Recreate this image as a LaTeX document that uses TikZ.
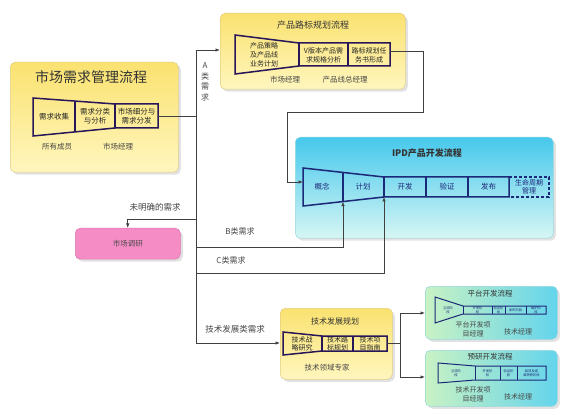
\documentclass[tikz,border=0pt]{standalone}
\usepackage{fontspec}
\setmainfont{Noto Sans CJK SC}
\usetikzlibrary{shadows,arrows.meta}
\definecolor{ytop}{RGB}{250,226,112}
\definecolor{ybot}{RGB}{255,246,190}
\definecolor{ybord}{RGB}{226,206,130}
\definecolor{ctop}{RGB}{70,200,236}
\definecolor{cbot}{RGB}{214,246,244}
\definecolor{cbord}{RGB}{150,215,220}
\definecolor{gleft}{RGB}{200,242,196}
\definecolor{gright}{RGB}{100,212,236}
\definecolor{pinkf}{RGB}{246,140,198}
\definecolor{pinkb}{RGB}{220,120,170}
\definecolor{funp}{RGB}{40,22,90}
\definecolor{funn}{RGB}{28,40,120}
\definecolor{labc}{RGB}{70,70,70}
\begin{document}
\begin{tikzpicture}[x=1pt,y=-1pt,
  boxbase/.style={rounded corners=5pt, line width=0.5pt, inner sep=0pt, anchor=north west,
    drop shadow={shadow xshift=2.5pt, shadow yshift=-2.5pt, fill=black!22}},
  ybox/.style={boxbase, draw=ybord, top color=ytop, bottom color=ybot},
  cbox/.style={boxbase, draw=cbord, top color=ctop, bottom color=cbot},
  gbox/.style={boxbase, draw=cbord, left color=gleft, right color=gright},
  pbox/.style={boxbase, draw=pinkb, fill=pinkf},
  funy/.style={draw=funp, line width=1.5pt, line join=miter},
  funi/.style={draw=funn, line width=1.5pt, line join=miter},
  funs/.style={draw=funn, line width=1pt, line join=miter},
  lbl/.style={font=\fontsize{7.5}{9}\selectfont, text=labc, inner sep=0pt},
  ftxt/.style={font=\fontsize{7.5}{9}\selectfont, text=black!85, align=center, inner sep=0pt},
  itxt/.style={font=\fontsize{7.5}{9}\selectfont, text=funn, align=center, inner sep=0pt},
  tiny/.style={font=\fontsize{3.3}{3.8}\selectfont, text=funn, align=center, inner sep=0pt},
  ttl/.style={font=\fontsize{9}{11}\selectfont, text=black!80, inner sep=0pt},
  conn/.style={draw=black!75, line width=0.7pt},
  arr/.style={conn, -{Latex[length=4.5pt,width=3.5pt]}}
]
\useasboundingbox (0,0) rectangle (572,419);
\fill[white] (0,0) rectangle (572,419);

% ---------- boxes ----------
\node[ybox, minimum width=168pt, minimum height=110pt] (mb) at (10,62) {};
\node[ybox, minimum width=185pt, minimum height=76pt] (rm) at (220,13) {};
\node[cbox, minimum width=258pt, minimum height=101pt] (ipd) at (295,137) {};
\node[pbox, minimum width=105pt, minimum height=31pt] (mr) at (75,228) {};
\node[ybox, minimum width=112pt, minimum height=71pt] (td) at (280,308) {};
\node[gbox, minimum width=132pt, minimum height=53pt] (pf) at (425,286) {};
\node[gbox, minimum width=132pt, minimum height=56pt] (pr) at (425,350) {};

% ---------- market demand ----------
\node[inner sep=0pt, font=\fontsize{14}{16}\selectfont, text=black!80] (mbt) at (91,77) {市场需求管理流程};
\draw[funy] (33,98) -- (115,104) -- (158,104) -- (158,128) -- (115,128) -- (33,136) -- cycle;
\draw[funy] (75,101) -- (75,131.6);
\draw[funy] (115,104) -- (115,128);
\node[ftxt] (m1) at (54,117) {需求收集};
\node[ftxt] (m2) at (95,116) {需求分类\\与分析};
\node[ftxt] (m3) at (136.5,116) {市场细分与\\需求分发};
\node[lbl] (m4) at (57,147) {所有成员};
\node[lbl] (m5) at (118,147) {市场经理};
\coordinate (mfR) at (158,116);

% ---------- roadmap ----------
\node[ttl] (rmt) at (313,25) {产品路标规划流程};
\draw[funy] (235,35) -- (299,43) -- (390,43) -- (390,66) -- (299,66) -- (235,74) -- cycle;
\draw[funy] (299,43) -- (299,66);
\draw[funy] (348,43) -- (348,66);
\node[ftxt, font=\fontsize{7}{8.8}\selectfont] (r1) at (264,55) {产品策略\\及产品线\\业务计划};
\node[ftxt, font=\fontsize{7}{8.8}\selectfont] (r2) at (323.5,55) {V版本产品需\\求规格分析};
\node[ftxt, font=\fontsize{7}{8.8}\selectfont] (r3) at (369,55) {路标规划任\\务书形成};
\node[lbl] (r4) at (285,80) {市场经理};
\node[lbl] (r5) at (345,80) {产品线总经理};
\coordinate (rmR) at (390,51);

% ---------- IPD ----------
\node[ttl, font=\fontsize{9}{11}\selectfont\bfseries] (ipdt) at (427,153) {IPD产品开发流程};
\draw[funi] (303,168) -- (384,177) -- (509,177) -- (509,197) -- (384,197) -- (303,206) -- cycle;
\draw[funi] (343,172.4) -- (343,201.6);
\draw[funi] (384,177) -- (384,197);
\draw[funi] (426,177) -- (426,197);
\draw[funi] (468,177) -- (468,197);
\draw[funi, dash pattern=on 3pt off 2pt] (509,177) -- (549,177) -- (549,197) -- (509,197);
\node[itxt] (i1) at (322,187) {概念};
\node[itxt] (i2) at (363,187) {计划};
\node[itxt] (i3) at (405,187) {开发};
\node[itxt] (i4) at (447,187) {验证};
\node[itxt] (i5) at (488.5,187) {发布};
\node[itxt, font=\fontsize{7}{8.5}\selectfont] (i6) at (529,187) {生命周期\\管理};
\coordinate (ipdL) at (303,182);
\coordinate (ipdM) at (343,201.6);
\coordinate (ipdT) at (384,197);

% ---------- market research ----------
\node[ftxt, text=black!70] (mrt) at (mr.center) {市场调研};

% ---------- tech development ----------
\node[ttl, font=\fontsize{8}{10}\selectfont] (tdt) at (335,321) {技术发展规划};
\draw[funy] (283,332) -- (322,336) -- (387,336) -- (387,351) -- (322,351) -- (283,355) -- cycle;
\draw[funy] (322,336) -- (322,351);
\draw[funy] (353,336) -- (353,351);
\node[ftxt, font=\fontsize{7}{8}\selectfont] (t1) at (302,343.5) {技术战\\略研究};
\node[ftxt, font=\fontsize{7}{8}\selectfont] (t2) at (337.5,343.5) {技术路\\标规划};
\node[ftxt, font=\fontsize{7}{8}\selectfont] (t3) at (370,343.5) {技术项\\目指南};
\node[lbl] (t4) at (327,368) {技术领域专家};
\coordinate (tdR) at (387,343);

% ---------- platform ----------
\node[ttl, font=\fontsize{7.5}{9}\selectfont] (pft) at (490,294) {平台开发流程};
\draw[funs] (435,297) -- (463,306) -- (546,306) -- (546,314) -- (463,314) -- (435,323) -- cycle;
\draw[funs] (463,306) -- (463,314);
\draw[funs] (492,306) -- (492,314);
\draw[funs] (505,306) -- (505,314);
\draw[funs] (526,306) -- (526,314);
\node[tiny] (p1) at (448,310) {立项阶\\段};
\node[tiny] (p2) at (477.5,310) {开发阶\\段};
\node[tiny] (p3) at (498.5,310) {验证阶\\段};
\node[tiny] (p4) at (515.5,310) {发布阶段};
\node[tiny] (p5) at (536,310) {维护阶\\段};
\node[lbl, align=center, font=\fontsize{7}{9}\selectfont] (p6) at (473,329.5) {平台开发项\\目经理};
\node[lbl, font=\fontsize{7}{9}\selectfont] (p7) at (518,332) {技术经理};

% ---------- pre-research ----------
\node[ttl, font=\fontsize{7.5}{9}\selectfont] (prt) at (490,357) {预研开发流程};
\draw[funs] (438,363) -- (475,366) -- (546,366) -- (546,380) -- (475,380) -- (438,383) -- cycle;
\draw[funs] (475,366) -- (475,380);
\draw[funs] (500,366) -- (500,380);
\draw[funs] (517,366) -- (517,380);
\node[tiny] (q1) at (456,373) {立项阶\\段};
\node[tiny] (q2) at (487.5,373) {开发阶\\段};
\node[tiny] (q3) at (508.5,373) {验证阶\\段};
\node[tiny] (q4) at (531.5,373) {结项及成\\果转移阶段};
\node[lbl, align=center, font=\fontsize{7}{9}\selectfont] (q5) at (473,394.5) {技术开发项\\目经理};
\node[lbl, font=\fontsize{7}{9}\selectfont] (q6) at (518,397) {技术经理};

% ---------- trunk & connectors ----------
\coordinate (tA) at (196,50);
\coordinate (tU) at (196,219);
\coordinate (tB) at (196,247);
\coordinate (tC) at (196,273);
\coordinate (tT) at (196,343);
\coordinate (rmOut) at (423,51);
\coordinate (rmDn) at (423,112);
\coordinate (ipdIn) at (287,112);
\coordinate (tdJ) at (400,343);
\coordinate (tdTop) at (400,313);
\coordinate (tdBot) at (400,377);

\draw[conn] (tA) -- (tT);
\draw[conn] (mfR) -- (mfR -| tA);
\draw[arr] (tA) -- (tA -| rm.west);
\draw[arr] (tU) -| (mr.north);
\draw[arr] (tB) -| (ipdM);
\draw[arr] (tC) -| (ipdT);
\draw[arr] (tT) -- (tT -| td.west);
\draw[arr] (rmR) -- (rmOut) -- (rmDn) -- (ipdIn) |- (ipdL);
\draw[conn] (tdR) -- (tdJ);
\draw[conn] (tdTop) -- (tdBot);
\draw[arr] (tdTop) -- (tdTop -| pf.west);
\draw[arr] (tdBot) -- (tdBot -| pr.west);

% ---------- connector labels ----------
\node[lbl, align=center, font=\fontsize{8}{10.5}\selectfont] (la) at (205,82) {A\\类\\需\\求};
\node[lbl, font=\fontsize{8.5}{10}\selectfont] (lu) at (155,207) {未明确的需求};
\node[lbl, font=\fontsize{8}{10}\selectfont] (lb) at (240,231) {B类需求};
\node[lbl, font=\fontsize{8}{10}\selectfont] (lc) at (231,260) {C类需求};
\node[lbl, font=\fontsize{8.5}{10}\selectfont] (lt) at (235,329) {技术发展类需求};
\end{tikzpicture}
\end{document}
